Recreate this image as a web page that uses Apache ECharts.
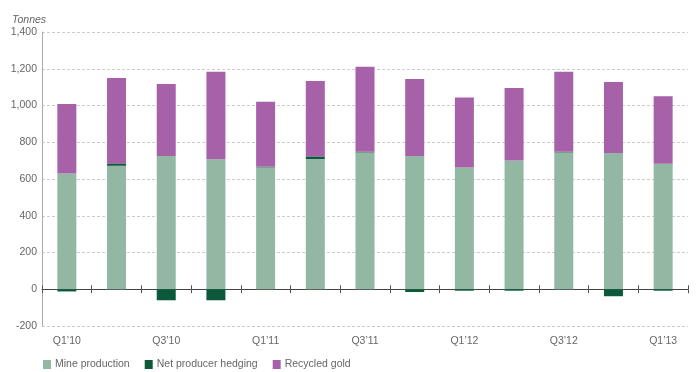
<!DOCTYPE html>
<html>
<head>
<meta charset="utf-8">
<script src="https://cdn.jsdelivr.net/npm/echarts@6/dist/echarts.min.js"></script>
<style>
  html, body { margin: 0; padding: 0; background: #fff; }
  #chart { width: 696px; height: 372px; }
</style>
</head>
<body>
<div id="chart"></div>
<script>
// Quarterly gold supply components, tonnes
const quarters = ["Q1’10", "Q2’10", "Q3’10", "Q4’10", "Q1’11", "Q2’11", "Q3’11",
                  "Q4’11", "Q1’12", "Q2’12", "Q3’12", "Q4’12", "Q1’13"];
const mineProduction = [630, 672, 725, 708, 663, 708, 745, 725, 663, 701, 745, 741, 683];
const netHedging     = [-12, 13, -60, -60, 3, 15, 3, -15, -8, -8, 3, -38, -8];
const recycledGold   = [378, 465, 392, 475, 355, 410, 463, 419, 380, 394, 435, 387, 367];
const yTicks = [-200, 0, 200, 400, 600, 800, 1000, 1200, 1400];

const FONT = "'Liberation Sans', Arial, sans-serif";
const FS = 10.5;
const TEXT = '#666';

const chart = echarts.init(document.getElementById('chart'), null, { renderer: 'canvas' });

const barBase = { type: 'bar', stack: 'supply', barWidth: 19, xAxisIndex: 0, yAxisIndex: 0 };
const yRange = { type: 'value', min: yTicks[0], max: yTicks[yTicks.length - 1], interval: 200 };

chart.setOption({
  animation: false,
  backgroundColor: '#fff',
  title: {
    text: 'Tonnes', left: 7, top: 10,
    textStyle: { fontFamily: FONT, fontSize: FS, fontStyle: 'italic', fontWeight: 'normal', color: TEXT }
  },
  grid: { left: 42, right: 8, top: 32, bottom: 46 },
  legend: {
    left: 38, top: 354, itemWidth: 8, itemHeight: 9, itemGap: 15,
    icon: 'rect',
    textStyle: { fontFamily: FONT, fontSize: FS, color: TEXT, padding: [0, 0, 0, -1] },
    data: ['Mine production', 'Net producer hedging', 'Recycled gold']
  },
  xAxis: [
    {
      // category labels below the plot
      type: 'category', data: quarters, position: 'bottom',
      axisLine: { show: false, onZero: false },
      axisTick: { show: false },
      axisLabel: { interval: 1, margin: 10, fontFamily: FONT, fontSize: FS, color: TEXT },
      splitLine: { show: false }
    },
    {
      // zero line with ticks hanging below it
      type: 'category', data: quarters, position: 'bottom',
      axisLine: { show: true, onZero: true, onZeroAxisIndex: 0, lineStyle: { color: '#444', width: 1 } },
      axisTick: { show: true, interval: 0, length: 4, lineStyle: { color: '#555' } },
      axisLabel: { show: false },
      splitLine: { show: false }
    },
    {
      // ticks rising above the zero line
      type: 'category', data: quarters, position: 'top',
      axisLine: { show: false, onZero: true, onZeroAxisIndex: 1 },
      axisTick: { show: true, interval: 0, length: 4, lineStyle: { color: '#555' } },
      axisLabel: { show: false },
      splitLine: { show: false }
    }
  ],
  yAxis: [
    Object.assign({}, yRange, {
      position: 'left',
      axisLine: { show: true, lineStyle: { color: '#aaa' } },
      axisTick: { show: false },
      axisLabel: {
        margin: 5, fontFamily: FONT, fontSize: FS, color: TEXT,
        formatter: v => v.toLocaleString('en-US')
      },
      splitLine: { show: true, lineStyle: { color: '#cccccc', type: [3, 2], width: 1 } }
    }),
    Object.assign({}, yRange, {
      position: 'right', show: true,
      axisLine: { show: false }, axisTick: { show: false },
      axisLabel: { show: false }, splitLine: { show: false }
    })
  ],
  series: [
    Object.assign({}, barBase, { name: 'Mine production', data: mineProduction, itemStyle: { color: '#92b8a3' } }),
    Object.assign({}, barBase, { name: 'Net producer hedging', data: netHedging, itemStyle: { color: '#0c5a3b' } }),
    Object.assign({}, barBase, { name: 'Recycled gold', data: recycledGold, itemStyle: { color: '#a661a8' } })
  ]
});
</script>
</body>
</html>
